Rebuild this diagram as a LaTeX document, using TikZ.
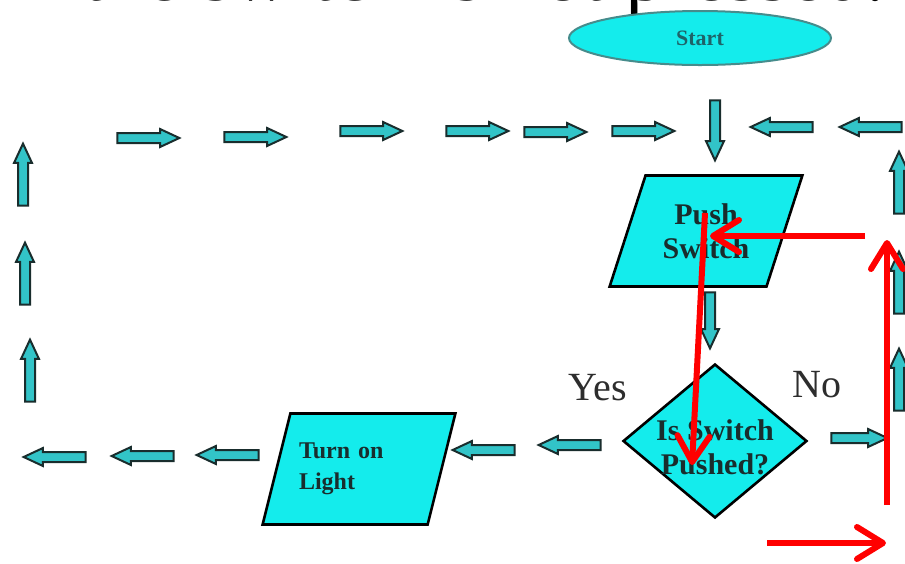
\documentclass[tikz,border=0pt]{standalone}
\usepackage{fontspec}
\setmainfont{Liberation Serif}
\usepackage{xcolor}
\usepackage{tikz}
\usetikzlibrary{shapes.geometric, shapes.arrows, arrows.meta, positioning}
\definecolor{mycyan}{RGB}{20,236,236}
\definecolor{myteal}{RGB}{50,196,200}
\definecolor{mydark}{RGB}{25,45,45}
\definecolor{myred}{RGB}{255,0,0}
\definecolor{rimteal}{RGB}{70,140,140}
\definecolor{txtteal}{RGB}{30,100,105}
\definecolor{labelgray}{RGB}{45,45,45}
\tikzset{
  terminal/.style={ellipse, draw=rimteal, fill=mycyan, line width=1pt, minimum width=131pt, minimum height=27pt, inner sep=0pt, font=\bfseries\fontsize{11}{12}\selectfont, text=txtteal},
  ioblock/.style={trapezium, trapezium left angle=65, trapezium right angle=115, trapezium stretches=true, draw=black, fill=mycyan, line width=1.3pt, minimum width=97pt, minimum height=55.5pt, inner sep=0pt, align=center, text=mydark},
  decision/.style={diamond, draw=black, fill=mycyan, line width=1.3pt, minimum width=92pt, minimum height=77pt, inner sep=0pt},
  boxtext/.style={font=\bfseries\fontsize{15}{17}\selectfont, align=center, text=mydark, inner sep=0pt},
  answer/.style={font=\fontsize{20}{24}\selectfont, text=labelgray, inner sep=0pt},
  blockarrow/.style={single arrow, draw=mydark, fill=myteal, line width=1pt, minimum height=31pt, minimum width=8pt, single arrow head extend=2pt, single arrow tip angle=50, inner sep=2pt},
  redarrow/.style={-{Straight Barb[length=13pt, width=16pt, round]}, line width=3pt, color=myred}
}

\begin{document}
\begin{tikzpicture}[x=0.5pt, y=-0.5pt]
  \useasboundingbox (0,0) rectangle (905,563);
  \fill[white] (0,0) rectangle (905,563);
  \clip (0,0) rectangle (905,563);

  % Cut-off heading
  \node[anchor=base west, inner sep=0pt, font=\fontsize{40}{48}\selectfont] (heading) at (14,0) {if the switch is not pressed.};

  % Flowchart shapes
  \node[terminal] (start) at (700,38) {Start};
  \node[ioblock, font=\bfseries\fontsize{15}{17}\selectfont] (push) at (706,231) {Push\\Switch};
  \node[decision] (check) at (715,441) {};
  \node[boxtext] (checktext) at (715,447) {Is Switch\\Pushed?};
  \node[ioblock, text width=60pt, align=left, font=\bfseries\fontsize{12}{15.5}\selectfont] (light) at (359,469) {Turn on\\Light};

  % Branch labels
  \node[answer] (yes) at (598,388) {Yes};
  \node[answer] (no) at (817,385) {No};

  % Block arrows: top row
  \foreach \x/\y [count=\i] in {143/138, 250/137, 366/131, 472/131, 550/132, 638/131}
    \node[blockarrow] (top\i) at (\x,\y) {};
  \foreach \x/\y [count=\i] in {787/127, 876/127}
    \node[blockarrow, rotate=180] (back\i) at (\x,\y) {};
  \node[blockarrow, rotate=270, minimum height=30pt] (down1) at (715,125) {};
  \node[blockarrow, rotate=270, minimum height=28pt] (down2) at (710,315) {};

  % Block arrows: side columns
  \foreach \x/\y [count=\i] in {23/180, 25/279, 30/376}
    \node[blockarrow, rotate=90] (left\i) at (\x,\y) {};
  \foreach \x/\y [count=\i] in {899/188, 899/288, 899/385}
    \node[blockarrow, rotate=90] (right\i) at (\x,\y) {};

  % Block arrows: bottom row
  \foreach \x/\y [count=\i] in {60/457, 148/456, 233/455, 489/450, 575/445}
    \node[blockarrow, rotate=180] (bot\i) at (\x,\y) {};
  \node[blockarrow, minimum height=28pt] (nope) at (854,438) {};

  % Red markup
  \coordinate (ra1) at (865,236);
  \coordinate (ra2) at (710,236);
  \coordinate (rb1) at (705,213);
  \coordinate (rb2) at (692,465);
  \coordinate (rc1) at (887,505);
  \coordinate (rc2) at (887,240);
  \coordinate (rd1) at (767,543);
  \coordinate (rd2) at (886,543);
  \draw[redarrow] (ra1) -- (ra2);
  \draw[redarrow] (rb1) -- (rb2);
  \draw[redarrow] (rc1) -- (rc2);
  \draw[redarrow] (rd1) -- (rd2);
\end{tikzpicture}
\end{document}
